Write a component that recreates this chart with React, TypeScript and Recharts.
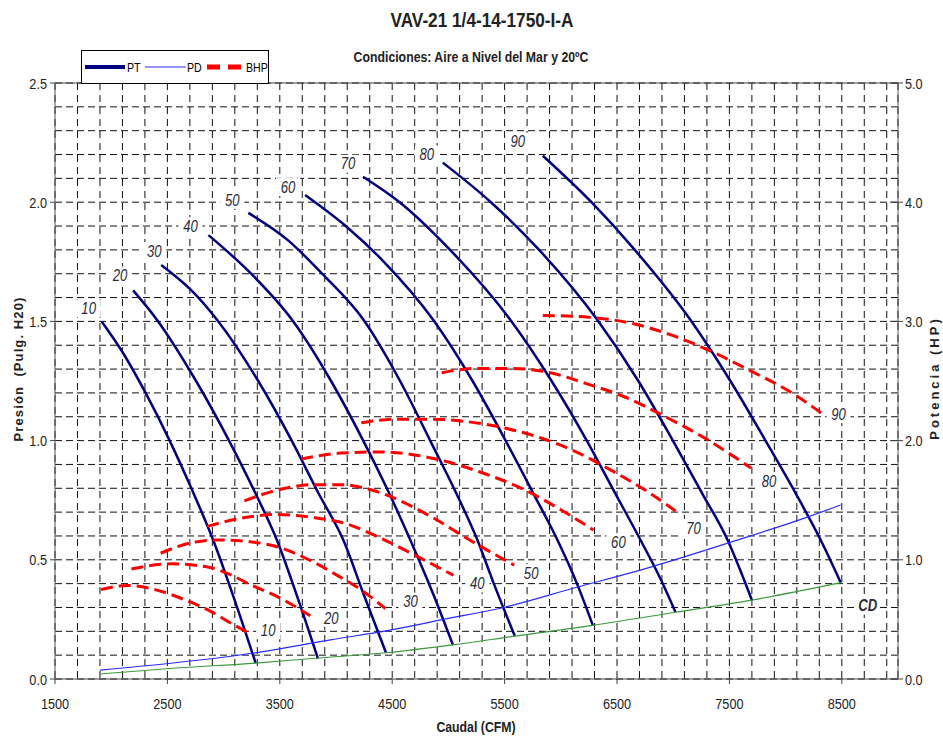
import React from 'react';
import { ComposedChart, Line, XAxis, YAxis, CartesianGrid, ReferenceLine } from 'recharts';

const FONT = "'Liberation Sans', Arial, sans-serif";
const NARROW = 0.82; // horizontal squeeze to mimic a narrow face

// axis ticks
const xTicks = [
  1500, 1700, 1900, 2100, 2300, 2500, 2700, 2900, 3100, 3300, 3500, 3700, 3900,
  4100, 4300, 4500, 4700, 4900, 5100, 5300, 5500, 5700, 5900, 6100, 6300, 6500,
  6700, 6900, 7100, 7300, 7500, 7700, 7900, 8100, 8300, 8500, 8700, 8900,
];
const xLabels = [1500, 2500, 3500, 4500, 5500, 6500, 7500, 8500];
const yTicks = [
  0, 0.1, 0.2, 0.3, 0.4, 0.5, 0.6, 0.7, 0.8, 0.9, 1.0, 1.1, 1.2,
  1.3, 1.4, 1.5, 1.6, 1.7, 1.8, 1.9, 2.0, 2.1, 2.2, 2.3, 2.4, 2.5,
];
const yLabels = [0, 0.5, 1.0, 1.5, 2.0, 2.5];
const hpTicks = [0, 1, 2, 3, 4, 5];

// presion total (PT) por apertura: [caudal CFM, presion pulg. H2O]
const pt10 = [[1915, 1.5], [2089, 1.38], [2306, 1.2], [2520, 1.0], [2713, 0.8], [2907, 0.583], [3099, 0.33], [3285, 0.067]];
const pt20 = [[2195, 1.63], [2408, 1.506], [2755, 1.25], [3048, 1.0], [3282, 0.78], [3474, 0.583], [3652, 0.35], [3840, 0.085]];
const pt30 = [[2445, 1.737], [2714, 1.63], [2943, 1.506], [3308, 1.25], [3606, 1.0], [3843, 0.78], [4065, 0.583], [4250, 0.35], [4445, 0.11]];
const pt40 = [[2865, 1.862], [3245, 1.7], [3610, 1.506], [3956, 1.25], [4242, 1.0], [4472, 0.78], [4661, 0.583], [4870, 0.35], [5040, 0.143]];
const pt50 = [[3220, 1.955], [3574, 1.84], [3876, 1.7], [4246, 1.506], [4570, 1.25], [4838, 1.0], [5069, 0.78], [5258, 0.583], [5404, 0.4], [5591, 0.18]];
const pt60 = [[3725, 2.03], [4086, 1.9], [4426, 1.75], [4866, 1.506], [5215, 1.25], [5509, 1.0], [5754, 0.78], [5970, 0.583], [6144, 0.4], [6285, 0.225]];
const pt70 = [[4240, 2.107], [4566, 2.0], [5015, 1.8], [5552, 1.506], [5918, 1.25], [6231, 1.0], [6483, 0.78], [6709, 0.583], [6877, 0.43], [7021, 0.28]];
const pt80 = [[4950, 2.166], [5378, 2.0], [5807, 1.8], [6326, 1.506], [6690, 1.25], [6997, 1.0], [7256, 0.78], [7484, 0.583], [7602, 0.45], [7700, 0.331]];
const pt90 = [[5840, 2.195], [6273, 2.0], [6658, 1.8], [7154, 1.506], [7509, 1.25], [7821, 1.0], [8088, 0.78], [8312, 0.583], [8491, 0.404]];

// presion dinamica (PD) y curva de ducto (CD)
const pd = [[1900, 0.037], [2550, 0.067], [3270, 0.109], [3950, 0.164], [4480, 0.205], [4955, 0.25], [5490, 0.3], [6150, 0.386], [6620, 0.445], [7485, 0.57], [8200, 0.68], [8490, 0.73]];
const cd = [[1900, 0.021], [2550, 0.045], [3285, 0.067], [3840, 0.088], [4445, 0.11], [5040, 0.143], [5591, 0.18], [6285, 0.225], [7021, 0.28], [7700, 0.331], [8491, 0.404]];

// potencia al freno (BHP): [caudal CFM, HP]
const bhp10 = [[1910, 0.75], [2140, 0.785], [2390, 0.75], [2640, 0.67], [2880, 0.57], [3080, 0.46], [3245, 0.375]];
const bhp20 = [[2180, 0.923], [2540, 0.966], [2880, 0.935], [3050, 0.88], [3220, 0.8], [3490, 0.685], [3771, 0.53]];
const bhp30 = [[2440, 1.055], [2700, 1.14], [2950, 1.166], [3250, 1.15], [3510, 1.1], [3780, 0.99], [4038, 0.855], [4220, 0.75], [4440, 0.59]];
const bhp40 = [[2854, 1.28], [3160, 1.35], [3480, 1.38], [3800, 1.355], [4100, 1.3], [4400, 1.18], [4700, 1.04], [5044, 0.87]];
const bhp50 = [[3185, 1.495], [3500, 1.59], [3800, 1.63], [4050, 1.63], [4300, 1.59], [4560, 1.5], [4850, 1.36], [5200, 1.16], [5585, 0.955]];
const bhp60 = [[3690, 1.845], [4040, 1.895], [4380, 1.905], [4700, 1.88], [5000, 1.82], [5300, 1.73], [5650, 1.6], [6000, 1.42], [6290, 1.25]];
const bhp70 = [[4225, 2.15], [4550, 2.18], [4850, 2.18], [5200, 2.155], [5500, 2.105], [5830, 2.02], [6150, 1.9], [6450, 1.75], [6750, 1.585], [7021, 1.41]];
const bhp80 = [[4940, 2.57], [5250, 2.605], [5550, 2.605], [5880, 2.575], [6220, 2.48], [6560, 2.37], [6900, 2.215], [7300, 2.01], [7692, 1.77]];
const bhp90 = [[5840, 3.05], [6250, 3.035], [6650, 2.98], [7000, 2.88], [7380, 2.73], [7720, 2.57], [8040, 2.41], [8320, 2.23]];

const toRows = (arr: number[][]) => arr.map(([q, v]) => ({ q, v }));

// label text and where it sits relative to the curve end (px)
const ptSeries = [
  { name: '10', data: pt10, dx: -13, dy: -13 },
  { name: '20', data: pt20, dx: -13, dy: -15 },
  { name: '30', data: pt30, dx: -7, dy: -14 },
  { name: '40', data: pt40, dx: -18, dy: -9 },
  { name: '50', data: pt50, dx: -16, dy: -13 },
  { name: '60', data: pt60, dx: -17, dy: -8 },
  { name: '70', data: pt70, dx: -15, dy: -13 },
  { name: '80', data: pt80, dx: -16, dy: -8 },
  { name: '90', data: pt90, dx: -25, dy: -14 },
];
const bhpSeries = [
  { name: '10', data: bhp10, dx: 17, dy: -4 },
  { name: '20', data: bhp20, dx: 21, dy: 2 },
  { name: '30', data: bhp30, dx: 25, dy: -7 },
  { name: '40', data: bhp40, dx: 24, dy: 8 },
  { name: '50', data: bhp50, dx: 17, dy: 8 },
  { name: '60', data: bhp60, dx: 25, dy: 12 },
  { name: '70', data: bhp70, dx: 18, dy: 17 },
  { name: '80', data: bhp80, dx: 18, dy: 13 },
  { name: '90', data: bhp90, dx: 17, dy: 1 },
];

const NAVY = '#000080';
const BLUE = '#2a2aff';
const RED = '#ff0000';
const TXT = '#2a2a3a';

// narrow-looking text: ordinary text squeezed horizontally
const NText = ({ x, y, size, anchor = 'middle', bold = false, italic = false, fill = '#222', children }: any) => (
  <g transform={`translate(${x},${y}) scale(${NARROW},1)`}>
    <text x={0} y={0} dy="0.36em" textAnchor={anchor} fontFamily={FONT} fontSize={size}
      fontWeight={bold ? 'bold' : 'normal'} fontStyle={italic ? 'italic' : 'normal'} fill={fill}>
      {children}
    </text>
  </g>
);

const curveLabel = (text: string, at: number, dx: number, dy: number, bold = false) => (props: any) => {
  if (props.index !== at) return null;
  const px = props.x ?? props.viewBox?.x;
  const py = props.y ?? props.viewBox?.y;
  if (px == null || py == null) return null;
  const x = px + dx;
  const y = py + dy;
  return (
    <g>
      <rect x={x - 12} y={y - 9} width={24} height={18} fill="#fff" />
      <NText x={x} y={y} size={16} italic bold={bold} fill={TXT}>{text}</NText>
    </g>
  );
};

const XTick = (props: any) => {
  const { x, y, payload } = props;
  if (!xLabels.includes(payload.value)) return <g />;
  return (
    <g>
      <line x1={x} y1={y} x2={x} y2={y + 5} stroke="#444" />
      <NText x={x} y={y + 24} size={15.5}>{payload.value}</NText>
    </g>
  );
};

const LeftTick = (props: any) => {
  const { x, y, payload } = props;
  if (!yLabels.some((v) => Math.abs(v - payload.value) < 1e-6)) return <g />;
  return (
    <g>
      <line x1={x - 5} y1={y} x2={x} y2={y} stroke="#444" />
      <NText x={x - 8} y={y} size={15.5} anchor="end">{payload.value.toFixed(1)}</NText>
    </g>
  );
};

const RightTick = (props: any) => {
  const { x, y, payload } = props;
  return (
    <g>
      <line x1={x - 8} y1={y} x2={x + 5} y2={y} stroke="#444" />
      <NText x={x + 7} y={y} size={15.5} anchor="start">{payload.value.toFixed(1)}</NText>
    </g>
  );
};

export default function App() {
  return (
    <div style={{ position: 'absolute', left: 0, top: 0, width: 943, height: 736, background: '#fff' }}>
      <ComposedChart width={943} height={736} margin={{ top: 83, right: 0, bottom: 27, left: 0 }}>
        <CartesianGrid yAxisId="left" vertical={false} stroke="#111" strokeDasharray="7 4" />
        <CartesianGrid yAxisId="left" horizontal={false} stroke="#111" strokeDasharray="7 5" />
        <XAxis dataKey="q" type="number" domain={[1500, 9000]} ticks={xTicks} interval={0}
          allowDataOverflow height={30} tickSize={0} tickMargin={0} tick={XTick} stroke="#444" />
        <YAxis yAxisId="left" type="number" domain={[0, 2.5]} ticks={yTicks} interval={0}
          allowDataOverflow width={55} tickSize={0} tickMargin={0} tick={LeftTick} stroke="#555" />
        <YAxis yAxisId="right" orientation="right" type="number" domain={[0, 5]} ticks={hpTicks}
          interval={0} allowDataOverflow width={45} tickSize={0} tickMargin={0} tick={RightTick} stroke="#555" />
        <ReferenceLine yAxisId="left" y={2.5} stroke="#444" />

        {ptSeries.map((s) => (
          <Line key={'pt' + s.name} yAxisId="left" data={toRows(s.data)} dataKey="v" type="monotone"
            stroke={NAVY} strokeWidth={2.5} dot={false} activeDot={false} isAnimationActive={false}
            label={curveLabel(s.name, 0, s.dx, s.dy)} />
        ))}

        <Line yAxisId="left" data={toRows(pd)} dataKey="v" type="monotone" stroke={BLUE}
          strokeWidth={1.2} dot={false} activeDot={false} isAnimationActive={false} />
        <Line yAxisId="left" data={toRows(cd)} dataKey="v" type="monotone" stroke="#3c9a3c"
          strokeWidth={1.2} dot={false} activeDot={false} isAnimationActive={false}
          label={curveLabel('CD', cd.length - 1, 27, 23, true)} />

        {bhpSeries.map((s) => (
          <Line key={'bhp' + s.name} yAxisId="right" data={toRows(s.data)} dataKey="v" type="monotone"
            stroke={RED} strokeWidth={3} strokeDasharray="12 6" dot={false} activeDot={false}
            isAnimationActive={false} label={curveLabel(s.name, s.data.length - 1, s.dx, s.dy)} />
        ))}
      </ComposedChart>

      <svg width={943} height={736} style={{ position: 'absolute', left: 0, top: 0, pointerEvents: 'none' }}>
        <NText x={482} y={19} size={21} bold>VAV-21 1/4-14-1750-I-A</NText>
        <NText x={471} y={57} size={15} bold>Condiciones: Aire a Nivel del Mar y 20ºC</NText>
        <NText x={476} y={727} size={15} bold>Caudal (CFM)</NText>
        <text transform="translate(18,369) rotate(-90)" dy="0.36em" textAnchor="middle" fontFamily={FONT}
          fontSize={13} fontWeight="bold" fill="#222" letterSpacing={1.1} style={{ whiteSpace: 'pre' }}>
          Presión  (Pulg. H20)
        </text>
        <text transform="translate(934,378) rotate(-90)" dy="0.36em" textAnchor="middle" fontFamily={FONT}
          fontSize={13} fontWeight="bold" fill="#222" letterSpacing={3}>
          Potencia (HP)
        </text>

        <rect x={81.5} y={50.5} width={187} height={33} fill="#fff" stroke="#000" />
        <line x1={85} y1={67} x2={125} y2={67} stroke={NAVY} strokeWidth={4} />
        <NText x={127} y={67} size={13} anchor="start" fill="#000">PT</NText>
        <line x1={145} y1={67} x2={186} y2={67} stroke={BLUE} strokeWidth={1.2} />
        <NText x={187} y={67} size={13} anchor="start" fill="#000">PD</NText>
        <line x1={207} y1={67} x2={243} y2={67} stroke={RED} strokeWidth={5} strokeDasharray="13 8" />
        <NText x={246} y={67} size={13} anchor="start" fill="#000">BHP</NText>
      </svg>
    </div>
  );
}
